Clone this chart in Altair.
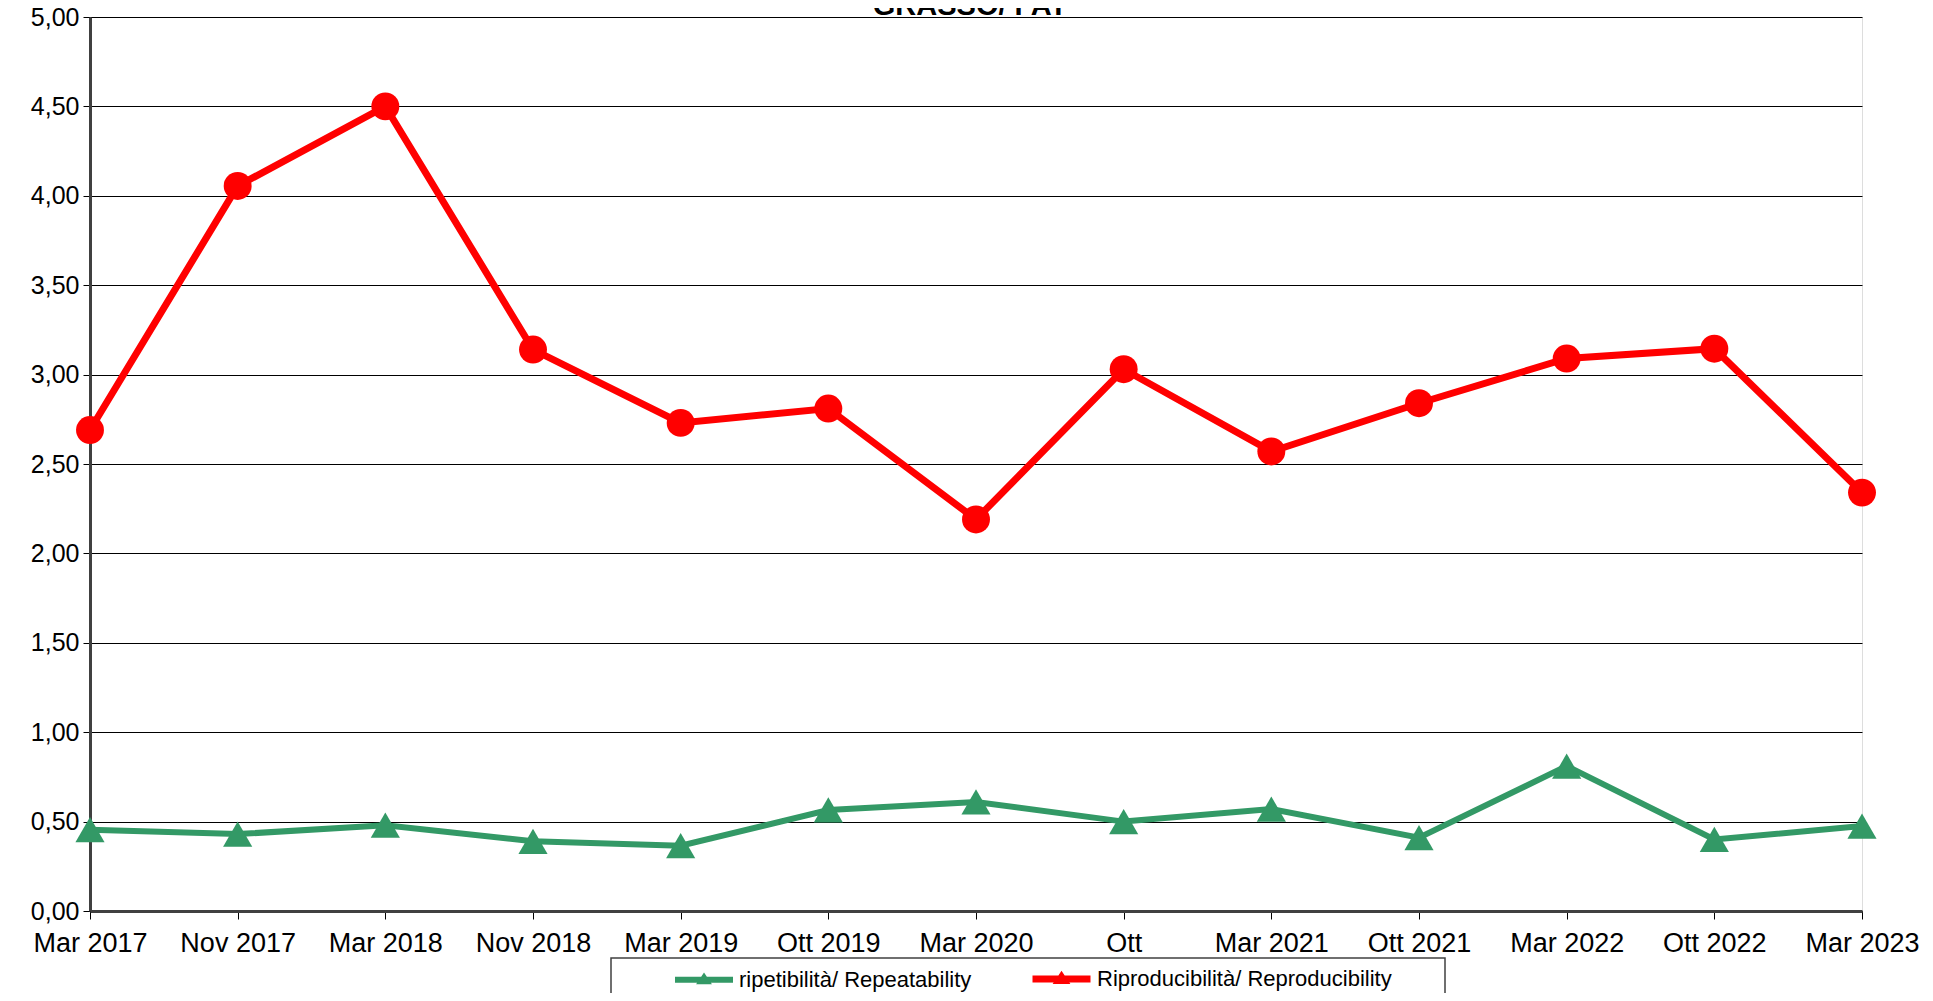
import altair as alt
import pandas as pd

dates = ["Mar 2017", "Nov 2017", "Mar 2018", "Nov 2018", "Mar 2019", "Ott 2019",
         "Mar 2020", "Ott", "Mar 2021", "Ott 2021", "Mar 2022", "Ott 2022", "Mar 2023"]
repeatability = [0.455, 0.43, 0.48, 0.39, 0.365, 0.565, 0.61, 0.50, 0.57, 0.41, 0.81, 0.40, 0.475]
reproducibility = [2.69, 4.055, 4.50, 3.14, 2.73, 2.81, 2.19, 3.03, 2.57, 2.84, 3.09, 3.145, 2.34]
series = ["ripetibilità/ Repeatability", "Riproducibilità/ Reproducibility"]
colors = ["#339966", "#FF0000"]
title_text = "GRASSO/ FAT"
y_ticks = [0, 0.5, 1, 1.5, 2, 2.5, 3, 3.5, 4, 4.5, 5]

df = pd.DataFrame({
    "Data": dates * 2,
    "Valore": repeatability + reproducibility,
    "Serie": [series[0]] * len(dates) + [series[1]] * len(dates),
})

FONT = "Liberation Sans"

x_enc = alt.X("Data:N", sort=dates, scale=alt.Scale(type="point", padding=0),
              axis=alt.Axis(title=None, labelAngle=0, labelFontSize=27, labelColor="black",
                            labelFont=FONT, tickSize=8, tickColor="black", tickWidth=1,
                            domainColor="#404040", domainWidth=3, labelPadding=11,
                            grid=False, labelOverlap=False))
y_enc = alt.Y("Valore:Q", scale=alt.Scale(domain=[0, 5], nice=False),
              axis=alt.Axis(title=None, values=y_ticks,
                            labelExpr="replace(format(datum.value, '.2f'), '.', ',')",
                            labelFontSize=25, labelColor="black", labelFont=FONT,
                            tickSize=7, tickColor="black", tickWidth=1,
                            domainColor="#404040", domainWidth=3, labelPadding=4,
                            grid=True, gridColor="#000000", gridWidth=1))

legend_path = "M-1,0H1M-0.08,0.06L0,-0.06L0.08,0.06Z"

base = alt.Chart(df)

lines = base.mark_line().encode(
    x=x_enc, y=y_enc,
    color=alt.Color("Serie:N", scale=alt.Scale(domain=series, range=colors),
                    legend=alt.Legend(title=None, orient="none", legendX=582, legendY=929,
                                      direction="horizontal", symbolType=legend_path,
                                      symbolSize=3364, symbolStrokeWidth=6,
                                      labelFontSize=22, labelFont=FONT, labelColor="black",
                                      labelOffset=3, columnPadding=46, padding=0,
                                      labelLimit=500)),
    strokeWidth=alt.StrokeWidth("Serie:N", scale=alt.Scale(domain=series, range=[6, 7]), legend=None),
)

pts_g = base.transform_filter(alt.datum.Serie == series[0]).mark_point(
    shape="triangle-up", filled=True, size=850, color=colors[0], opacity=1
).encode(x=x_enc, y=y_enc)

pts_r = base.transform_filter(alt.datum.Serie == series[1]).mark_point(
    shape="circle", filled=True, size=780, color=colors[1], opacity=1
).encode(x=x_enc, y=y_enc)

box = alt.Chart(pd.DataFrame({"k": [0]})).mark_rect(
    fill="white", stroke="#404040", strokeWidth=1.5
).encode(x=alt.value(521), x2=alt.value(1355), y=alt.value(941), y2=alt.value(1120))

title = alt.Chart(pd.DataFrame({"t": [title_text]})).mark_text(
    font=FONT, fontSize=29, fontWeight="bold", color="black", align="center", baseline="alphabetic"
).encode(text="t:N", x=alt.value(880), y=alt.value(-2))

chart = alt.layer(box, lines, pts_g, pts_r, title).properties(
    width=1772, height=894,
    autosize=alt.AutoSizeParams(type="none"),
    padding={"left": 82, "top": 9, "right": 63, "bottom": 82},
).configure_view(stroke="#808080", strokeWidth=2).configure(font=FONT)

chart.save("out.html", embed_options={"renderer": "svg", "actions": False})
